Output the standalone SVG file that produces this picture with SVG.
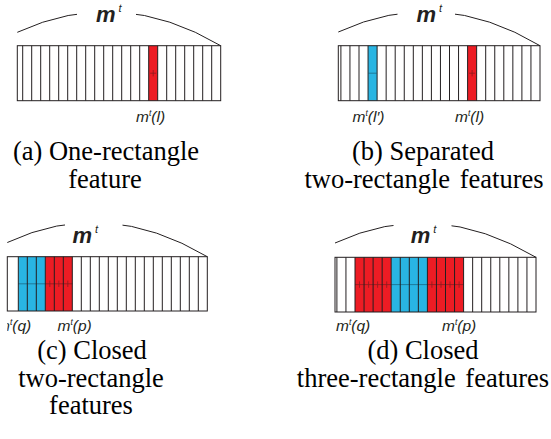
<svg xmlns="http://www.w3.org/2000/svg" width="551" height="439" viewBox="0 0 551 439">
<style>
.bg{fill:#ffffff}
.cell{fill:none;stroke:#231f20;stroke-width:1}
.frame{fill:none;stroke:#231f20;stroke-width:1}
.red{fill:#ed1c24}
.blue{fill:#29b5e3}
.rmark{stroke:#8e1a1e;stroke-width:0.8;fill:none}
.bmark{stroke:#1c6a88;stroke-width:0.8;fill:none}
.arc{fill:none;stroke:#231f20;stroke-width:1}
.mt{font-family:"Liberation Sans",Arial,sans-serif;font-size:22px;font-weight:bold;font-style:italic;fill:#231f20}
.sup{font-size:11px;font-weight:normal}
.lb{font-family:"Liberation Sans",Arial,sans-serif;font-size:15.5px;font-style:italic;fill:#231f20}
.lsup{font-size:8.5px}
.cap{font-family:"Liberation Serif",serif;font-size:26.5px;fill:#000000;text-anchor:middle}
</style>
<defs>
<mask id="gaps">
<rect x="0" y="0" width="551" height="439" fill="#fff"/>
<rect x="77" y="0" width="59" height="30" fill="#000"/>
<rect x="397.5" y="0" width="57.5" height="30" fill="#000"/>
<rect x="65" y="205" width="57.5" height="30" fill="#000"/>
<rect x="393.5" y="205" width="58" height="30" fill="#000"/>
</mask>
<clipPath id="clipc"><rect x="7.3" y="300" width="300" height="50"/></clipPath>
</defs>
<rect class="bg" x="0" y="0" width="551" height="439"/>

<g id="connectors" mask="url(#gaps)">
<path class="arc" d="M17.3,32.3 Q119,-14.7 220.7,45.7"/>
<path class="arc" d="M338.3,32 Q439.5,-14.7 540,45.7"/>
<path class="arc" d="M7.3,242.5 Q105.6,196.3 207.3,256.7"/>
<path class="arc" d="M335,243 Q434.3,196.9 536,257.3"/>
</g>

<g id="panel-a">
<rect class="red" x="148.7" y="45.7" width="9" height="55"/>
<path class="rmark" d="M150.2,73.2 H156.2 M153.2,70 V76.4"/>
<path class="cell" d="M22.7,45.7V100.7M31.7,45.7V100.7M40.7,45.7V100.7M49.7,45.7V100.7M58.7,45.7V100.7M67.7,45.7V100.7M76.7,45.7V100.7M85.7,45.7V100.7M94.7,45.7V100.7M103.7,45.7V100.7M112.7,45.7V100.7M121.7,45.7V100.7M130.7,45.7V100.7M139.7,45.7V100.7M148.7,45.7V100.7M157.7,45.7V100.7M166.7,45.7V100.7M175.7,45.7V100.7M184.7,45.7V100.7M193.7,45.7V100.7M202.7,45.7V100.7M211.7,45.7V100.7"/>
<rect class="frame" x="17.3" y="45.7" width="203.4" height="55"/>
<text class="mt" x="96" y="22">m<tspan class="sup" dx="3" dy="-10">t</tspan></text>
<text class="lb" x="136" y="122">m<tspan class="lsup" dy="-6.5">t</tspan><tspan dy="6.5">(l)</tspan></text>
<text class="cap" x="106" y="160">(a) One-rectangle</text>
<text class="cap" x="105" y="188">feature</text>
</g>

<g id="panel-b">
<rect class="blue" x="368.05" y="45.7" width="9.05" height="55"/>
<rect class="red" x="467.6" y="45.7" width="9.05" height="55"/>
<path class="bmark" d="M368.5,73.2 H376.6"/>
<path class="rmark" d="M469.1,73.2 H475.1 M472.1,70 V76.4"/>
<path class="cell" d="M340.9,45.7V100.7M349.95,45.7V100.7M359,45.7V100.7M368.05,45.7V100.7M377.1,45.7V100.7M386.15,45.7V100.7M395.2,45.7V100.7M404.25,45.7V100.7M413.3,45.7V100.7M422.35,45.7V100.7M431.4,45.7V100.7M440.45,45.7V100.7M449.5,45.7V100.7M458.55,45.7V100.7M467.6,45.7V100.7M476.65,45.7V100.7M485.7,45.7V100.7M494.75,45.7V100.7M503.8,45.7V100.7M512.85,45.7V100.7M521.9,45.7V100.7M530.95,45.7V100.7"/>
<rect class="frame" x="338.3" y="45.7" width="201.7" height="55"/>
<text class="mt" x="416.5" y="22">m<tspan class="sup" dx="3" dy="-10">t</tspan></text>
<text class="lb" x="352.5" y="122">m<tspan class="lsup" dy="-6.5">t</tspan><tspan dy="6.5">(l′)</tspan></text>
<text class="lb" x="455" y="122">m<tspan class="lsup" dy="-6.5">t</tspan><tspan dy="6.5">(l)</tspan></text>
<text class="cap" x="423" y="160">(b) Separated</text>
<text class="cap" x="424" y="188" word-spacing="3">two-rectangle features</text>
</g>

<g id="panel-c">
<rect class="blue" x="18.3" y="256.7" width="27" height="54.3"/>
<rect class="red" x="45.3" y="256.7" width="27" height="54.3"/>
<path class="bmark" d="M18.3,283.8 H45.3"/>
<path class="rmark" d="M45.3,283.8 H72.3 M49.8,280.6 V287 M58.8,280.6 V287 M67.8,280.6 V287"/>
<path class="cell" d="M18.3,256.7V311M27.3,256.7V311M36.3,256.7V311M45.3,256.7V311M54.3,256.7V311M63.3,256.7V311M72.3,256.7V311M81.3,256.7V311M90.3,256.7V311M99.3,256.7V311M108.3,256.7V311M117.3,256.7V311M126.3,256.7V311M135.3,256.7V311M144.3,256.7V311M153.3,256.7V311M162.3,256.7V311M171.3,256.7V311M180.3,256.7V311M189.3,256.7V311M198.3,256.7V311"/>
<rect class="frame" x="7.3" y="256.7" width="200" height="54.3"/>
<text class="mt" x="72.5" y="243">m<tspan class="sup" dx="3" dy="-10">t</tspan></text>
<text class="lb" x="-3" y="331" clip-path="url(#clipc)">m<tspan class="lsup" dy="-6.5">t</tspan><tspan dy="6.5">(q)</tspan></text>
<text class="lb" x="57.5" y="331">m<tspan class="lsup" dy="-6.5">t</tspan><tspan dy="6.5">(p)</tspan></text>
<text class="cap" x="92" y="359">(c) Closed</text>
<text class="cap" x="91" y="387">two-rectangle</text>
<text class="cap" x="91" y="414">features</text>
</g>

<g id="panel-d">
<rect class="red" x="355" y="257.3" width="36.2" height="54.7"/>
<rect class="blue" x="391.2" y="257.3" width="36.2" height="54.7"/>
<rect class="red" x="427.4" y="257.3" width="36.2" height="54.7"/>
<path class="rmark" d="M355,284.6 H391.2 M359.5,281.4 V287.8 M368.6,281.4 V287.8 M377.6,281.4 V287.8 M386.7,281.4 V287.8"/>
<path class="bmark" d="M391.2,284.6 H427.4"/>
<path class="rmark" d="M427.4,284.6 H463.6 M431.9,281.4 V287.8 M441,281.4 V287.8 M450,281.4 V287.8 M459.1,281.4 V287.8"/>
<path class="cell" d="M336.9,257.3V312M345.95,257.3V312M355,257.3V312M364.05,257.3V312M373.1,257.3V312M382.15,257.3V312M391.2,257.3V312M400.25,257.3V312M409.3,257.3V312M418.35,257.3V312M427.4,257.3V312M436.45,257.3V312M445.5,257.3V312M454.55,257.3V312M463.6,257.3V312M472.65,257.3V312M481.7,257.3V312M490.75,257.3V312M499.8,257.3V312M508.85,257.3V312M517.9,257.3V312M526.95,257.3V312"/>
<rect class="frame" x="335" y="257.3" width="201" height="54.7"/>
<text class="mt" x="410.7" y="242.5">m<tspan class="sup" dx="3" dy="-10">t</tspan></text>
<text class="lb" x="336" y="331">m<tspan class="lsup" dy="-6.5">t</tspan><tspan dy="6.5">(q)</tspan></text>
<text class="lb" x="442" y="331">m<tspan class="lsup" dy="-6.5">t</tspan><tspan dy="6.5">(p)</tspan></text>
<text class="cap" x="423" y="359">(d) Closed</text>
<text class="cap" x="423" y="387" word-spacing="3">three-rectangle features</text>
</g>
</svg>
